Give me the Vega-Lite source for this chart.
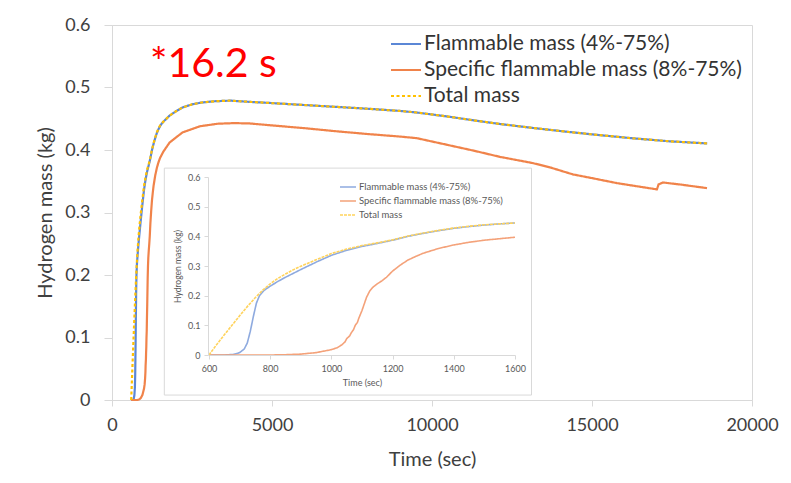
{
  "$schema": "https://vega.github.io/schema/vega-lite/v6.json",
  "width": 640,
  "height": 375,
  "autosize": {"type": "none"},
  "padding": {"left": 112, "top": 25, "right": 39, "bottom": 83},
  "background": "white",
  "config": {"font": "Lato", "view": {"stroke": "#d9d9d9"}, "axis": {"grid": false}},
  "datasets": {
    "mass": [
      {"series": "Flammable mass (4%-75%)", "t": 600, "v": 0},
      {"series": "Flammable mass (4%-75%)", "t": 650, "v": 0},
      {"series": "Flammable mass (4%-75%)", "t": 680, "v": 0.002},
      {"series": "Flammable mass (4%-75%)", "t": 700, "v": 0.008},
      {"series": "Flammable mass (4%-75%)", "t": 715, "v": 0.02},
      {"series": "Flammable mass (4%-75%)", "t": 725, "v": 0.04},
      {"series": "Flammable mass (4%-75%)", "t": 735, "v": 0.08},
      {"series": "Flammable mass (4%-75%)", "t": 745, "v": 0.13},
      {"series": "Flammable mass (4%-75%)", "t": 755, "v": 0.175},
      {"series": "Flammable mass (4%-75%)", "t": 765, "v": 0.2},
      {"series": "Flammable mass (4%-75%)", "t": 780, "v": 0.218},
      {"series": "Flammable mass (4%-75%)", "t": 800, "v": 0.232},
      {"series": "Flammable mass (4%-75%)", "t": 825, "v": 0.248},
      {"series": "Flammable mass (4%-75%)", "t": 850, "v": 0.262},
      {"series": "Flammable mass (4%-75%)", "t": 875, "v": 0.275},
      {"series": "Flammable mass (4%-75%)", "t": 900, "v": 0.288},
      {"series": "Flammable mass (4%-75%)", "t": 950, "v": 0.313},
      {"series": "Flammable mass (4%-75%)", "t": 1000, "v": 0.336},
      {"series": "Flammable mass (4%-75%)", "t": 1050, "v": 0.353},
      {"series": "Flammable mass (4%-75%)", "t": 1100, "v": 0.366},
      {"series": "Flammable mass (4%-75%)", "t": 1150, "v": 0.376},
      {"series": "Flammable mass (4%-75%)", "t": 1200, "v": 0.387},
      {"series": "Flammable mass (4%-75%)", "t": 1250, "v": 0.4},
      {"series": "Flammable mass (4%-75%)", "t": 1300, "v": 0.41},
      {"series": "Flammable mass (4%-75%)", "t": 1350, "v": 0.419},
      {"series": "Flammable mass (4%-75%)", "t": 1400, "v": 0.427},
      {"series": "Flammable mass (4%-75%)", "t": 1450, "v": 0.433},
      {"series": "Flammable mass (4%-75%)", "t": 1500, "v": 0.438},
      {"series": "Flammable mass (4%-75%)", "t": 1550, "v": 0.442},
      {"series": "Flammable mass (4%-75%)", "t": 1600, "v": 0.445},
      {"series": "Flammable mass (4%-75%)", "t": 1800, "v": 0.455},
      {"series": "Flammable mass (4%-75%)", "t": 2000, "v": 0.462},
      {"series": "Flammable mass (4%-75%)", "t": 2200, "v": 0.468},
      {"series": "Flammable mass (4%-75%)", "t": 2500, "v": 0.473},
      {"series": "Flammable mass (4%-75%)", "t": 2800, "v": 0.476},
      {"series": "Flammable mass (4%-75%)", "t": 3200, "v": 0.478},
      {"series": "Flammable mass (4%-75%)", "t": 3700, "v": 0.479},
      {"series": "Flammable mass (4%-75%)", "t": 4300, "v": 0.477},
      {"series": "Flammable mass (4%-75%)", "t": 4850, "v": 0.4755},
      {"series": "Flammable mass (4%-75%)", "t": 6000, "v": 0.472},
      {"series": "Flammable mass (4%-75%)", "t": 7000, "v": 0.469},
      {"series": "Flammable mass (4%-75%)", "t": 8000, "v": 0.466},
      {"series": "Flammable mass (4%-75%)", "t": 9000, "v": 0.4625},
      {"series": "Flammable mass (4%-75%)", "t": 9520, "v": 0.46},
      {"series": "Flammable mass (4%-75%)", "t": 10500, "v": 0.4535},
      {"series": "Flammable mass (4%-75%)", "t": 11300, "v": 0.4475},
      {"series": "Flammable mass (4%-75%)", "t": 12125, "v": 0.4416},
      {"series": "Flammable mass (4%-75%)", "t": 13200, "v": 0.435},
      {"series": "Flammable mass (4%-75%)", "t": 14200, "v": 0.4293},
      {"series": "Flammable mass (4%-75%)", "t": 15200, "v": 0.424},
      {"series": "Flammable mass (4%-75%)", "t": 16280, "v": 0.4187},
      {"series": "Flammable mass (4%-75%)", "t": 17400, "v": 0.414},
      {"series": "Flammable mass (4%-75%)", "t": 18600, "v": 0.4105},
      {"series": "Specific flammable mass (8%-75%)", "t": 600, "v": 0},
      {"series": "Specific flammable mass (8%-75%)", "t": 800, "v": 0},
      {"series": "Specific flammable mass (8%-75%)", "t": 850, "v": 0.001},
      {"series": "Specific flammable mass (8%-75%)", "t": 900, "v": 0.003},
      {"series": "Specific flammable mass (8%-75%)", "t": 950, "v": 0.008},
      {"series": "Specific flammable mass (8%-75%)", "t": 1000, "v": 0.018},
      {"series": "Specific flammable mass (8%-75%)", "t": 1020, "v": 0.025},
      {"series": "Specific flammable mass (8%-75%)", "t": 1035, "v": 0.035},
      {"series": "Specific flammable mass (8%-75%)", "t": 1045, "v": 0.045},
      {"series": "Specific flammable mass (8%-75%)", "t": 1050, "v": 0.055},
      {"series": "Specific flammable mass (8%-75%)", "t": 1060, "v": 0.065},
      {"series": "Specific flammable mass (8%-75%)", "t": 1065, "v": 0.075},
      {"series": "Specific flammable mass (8%-75%)", "t": 1072, "v": 0.085},
      {"series": "Specific flammable mass (8%-75%)", "t": 1078, "v": 0.1},
      {"series": "Specific flammable mass (8%-75%)", "t": 1085, "v": 0.11},
      {"series": "Specific flammable mass (8%-75%)", "t": 1090, "v": 0.125},
      {"series": "Specific flammable mass (8%-75%)", "t": 1096, "v": 0.14},
      {"series": "Specific flammable mass (8%-75%)", "t": 1100, "v": 0.15},
      {"series": "Specific flammable mass (8%-75%)", "t": 1105, "v": 0.165},
      {"series": "Specific flammable mass (8%-75%)", "t": 1110, "v": 0.18},
      {"series": "Specific flammable mass (8%-75%)", "t": 1115, "v": 0.195},
      {"series": "Specific flammable mass (8%-75%)", "t": 1120, "v": 0.205},
      {"series": "Specific flammable mass (8%-75%)", "t": 1125, "v": 0.215},
      {"series": "Specific flammable mass (8%-75%)", "t": 1135, "v": 0.228},
      {"series": "Specific flammable mass (8%-75%)", "t": 1150, "v": 0.24},
      {"series": "Specific flammable mass (8%-75%)", "t": 1165, "v": 0.25},
      {"series": "Specific flammable mass (8%-75%)", "t": 1180, "v": 0.262},
      {"series": "Specific flammable mass (8%-75%)", "t": 1200, "v": 0.283},
      {"series": "Specific flammable mass (8%-75%)", "t": 1225, "v": 0.303},
      {"series": "Specific flammable mass (8%-75%)", "t": 1250, "v": 0.32},
      {"series": "Specific flammable mass (8%-75%)", "t": 1275, "v": 0.332},
      {"series": "Specific flammable mass (8%-75%)", "t": 1300, "v": 0.343},
      {"series": "Specific flammable mass (8%-75%)", "t": 1350, "v": 0.359},
      {"series": "Specific flammable mass (8%-75%)", "t": 1400, "v": 0.371},
      {"series": "Specific flammable mass (8%-75%)", "t": 1450, "v": 0.38},
      {"series": "Specific flammable mass (8%-75%)", "t": 1500, "v": 0.387},
      {"series": "Specific flammable mass (8%-75%)", "t": 1550, "v": 0.392},
      {"series": "Specific flammable mass (8%-75%)", "t": 1600, "v": 0.397},
      {"series": "Specific flammable mass (8%-75%)", "t": 1800, "v": 0.412},
      {"series": "Specific flammable mass (8%-75%)", "t": 2200, "v": 0.428},
      {"series": "Specific flammable mass (8%-75%)", "t": 2750, "v": 0.438},
      {"series": "Specific flammable mass (8%-75%)", "t": 3300, "v": 0.442},
      {"series": "Specific flammable mass (8%-75%)", "t": 3800, "v": 0.443},
      {"series": "Specific flammable mass (8%-75%)", "t": 4300, "v": 0.4425},
      {"series": "Specific flammable mass (8%-75%)", "t": 4850, "v": 0.44},
      {"series": "Specific flammable mass (8%-75%)", "t": 6000, "v": 0.435},
      {"series": "Specific flammable mass (8%-75%)", "t": 7000, "v": 0.43},
      {"series": "Specific flammable mass (8%-75%)", "t": 8000, "v": 0.4255},
      {"series": "Specific flammable mass (8%-75%)", "t": 9000, "v": 0.4215},
      {"series": "Specific flammable mass (8%-75%)", "t": 9520, "v": 0.419},
      {"series": "Specific flammable mass (8%-75%)", "t": 10500, "v": 0.408},
      {"series": "Specific flammable mass (8%-75%)", "t": 11300, "v": 0.399},
      {"series": "Specific flammable mass (8%-75%)", "t": 12125, "v": 0.389},
      {"series": "Specific flammable mass (8%-75%)", "t": 13156, "v": 0.379},
      {"series": "Specific flammable mass (8%-75%)", "t": 13700, "v": 0.372},
      {"series": "Specific flammable mass (8%-75%)", "t": 14400, "v": 0.361},
      {"series": "Specific flammable mass (8%-75%)", "t": 15100, "v": 0.354},
      {"series": "Specific flammable mass (8%-75%)", "t": 15780, "v": 0.347},
      {"series": "Specific flammable mass (8%-75%)", "t": 16400, "v": 0.342},
      {"series": "Specific flammable mass (8%-75%)", "t": 17030, "v": 0.337},
      {"series": "Specific flammable mass (8%-75%)", "t": 17080, "v": 0.345},
      {"series": "Specific flammable mass (8%-75%)", "t": 17220, "v": 0.348},
      {"series": "Specific flammable mass (8%-75%)", "t": 17800, "v": 0.3445},
      {"series": "Specific flammable mass (8%-75%)", "t": 18594, "v": 0.339},
      {"series": "Total mass", "t": 600, "v": 0},
      {"series": "Total mass", "t": 625, "v": 0.035},
      {"series": "Total mass", "t": 650, "v": 0.068},
      {"series": "Total mass", "t": 675, "v": 0.1},
      {"series": "Total mass", "t": 700, "v": 0.132},
      {"series": "Total mass", "t": 725, "v": 0.163},
      {"series": "Total mass", "t": 750, "v": 0.192},
      {"series": "Total mass", "t": 775, "v": 0.218},
      {"series": "Total mass", "t": 800, "v": 0.24},
      {"series": "Total mass", "t": 825, "v": 0.258},
      {"series": "Total mass", "t": 850, "v": 0.273},
      {"series": "Total mass", "t": 875, "v": 0.287},
      {"series": "Total mass", "t": 900, "v": 0.299},
      {"series": "Total mass", "t": 950, "v": 0.321},
      {"series": "Total mass", "t": 1000, "v": 0.342},
      {"series": "Total mass", "t": 1050, "v": 0.357},
      {"series": "Total mass", "t": 1100, "v": 0.369},
      {"series": "Total mass", "t": 1150, "v": 0.378},
      {"series": "Total mass", "t": 1200, "v": 0.388},
      {"series": "Total mass", "t": 1250, "v": 0.401},
      {"series": "Total mass", "t": 1300, "v": 0.411},
      {"series": "Total mass", "t": 1350, "v": 0.42},
      {"series": "Total mass", "t": 1400, "v": 0.428},
      {"series": "Total mass", "t": 1450, "v": 0.434},
      {"series": "Total mass", "t": 1500, "v": 0.439},
      {"series": "Total mass", "t": 1550, "v": 0.442},
      {"series": "Total mass", "t": 1600, "v": 0.445},
      {"series": "Total mass", "t": 1800, "v": 0.455},
      {"series": "Total mass", "t": 2000, "v": 0.462},
      {"series": "Total mass", "t": 2200, "v": 0.468},
      {"series": "Total mass", "t": 2500, "v": 0.473},
      {"series": "Total mass", "t": 2800, "v": 0.476},
      {"series": "Total mass", "t": 3200, "v": 0.478},
      {"series": "Total mass", "t": 3700, "v": 0.479},
      {"series": "Total mass", "t": 4300, "v": 0.477},
      {"series": "Total mass", "t": 4850, "v": 0.4755},
      {"series": "Total mass", "t": 6000, "v": 0.472},
      {"series": "Total mass", "t": 7000, "v": 0.469},
      {"series": "Total mass", "t": 8000, "v": 0.466},
      {"series": "Total mass", "t": 9000, "v": 0.4625},
      {"series": "Total mass", "t": 9520, "v": 0.46},
      {"series": "Total mass", "t": 10500, "v": 0.4535},
      {"series": "Total mass", "t": 11300, "v": 0.4475},
      {"series": "Total mass", "t": 12125, "v": 0.4416},
      {"series": "Total mass", "t": 13200, "v": 0.435},
      {"series": "Total mass", "t": 14200, "v": 0.4293},
      {"series": "Total mass", "t": 15200, "v": 0.424},
      {"series": "Total mass", "t": 16280, "v": 0.4187},
      {"series": "Total mass", "t": 17400, "v": 0.414},
      {"series": "Total mass", "t": 18600, "v": 0.4105}
    ]
  },
  "layer": [
    {
      "layer": [
        {
          "data": {"name": "mass"},
          "mark": {"type": "line", "strokeWidth": 2.2},
          "encoding": {
            "x": {"field": "t", "type": "quantitative",
              "scale": {"domain": [0, 20000]},
              "axis": {"title": "Time (sec)", "values": [0, 5000, 10000, 15000, 20000], "format": "d",
                "labelFlush": false, "labelFontSize": 18, "titleFontSize": 20, "titleFontWeight": "normal",
                "labelColor": "#404040", "titleColor": "#404040", "domainColor": "#d9d9d9", "tickColor": "#d9d9d9",
                "tickSize": 6, "labelPadding": 10, "titlePadding": 15}},
            "y": {"field": "v", "type": "quantitative",
              "scale": {"domain": [0, 0.6]},
              "axis": {"title": "Hydrogen mass (kg)", "values": [0, 0.1, 0.2, 0.3, 0.4, 0.5, 0.6], "format": "~g",
                "labelFontSize": 18, "titleFontSize": 20, "titleFontWeight": "normal",
                "labelColor": "#404040", "titleColor": "#404040", "domainColor": "#d9d9d9", "tickColor": "#d9d9d9",
                "tickSize": 8, "labelPadding": 14, "titlePadding": 9}},
            "color": {"field": "series", "type": "nominal",
              "scale": {"domain": ["Flammable mass (4%-75%)", "Specific flammable mass (8%-75%)", "Total mass"],
                "range": ["#5B87D6", "#F0834A", "#FFC000"]},
              "legend": {"title": null, "orient": "none", "legendX": 278, "legendY": 3, "symbolType": "stroke",
                "symbolSize": 900, "symbolStrokeWidth": 2, "labelFontSize": 21, "labelColor": "#333333",
                "labelLimit": 400, "labelOffset": 2, "rowPadding": 0, "padding": 0}},
            "strokeDash": {"field": "series", "type": "nominal",
              "scale": {"domain": ["Flammable mass (4%-75%)", "Specific flammable mass (8%-75%)", "Total mass"],
                "range": [[1, 0], [1, 0], [3, 2.5]]},
              "legend": {"title": null, "orient": "none", "legendX": 278, "legendY": 3, "symbolType": "stroke",
                "symbolSize": 900, "symbolStrokeWidth": 2, "labelFontSize": 21, "labelColor": "#333333",
                "labelLimit": 400, "labelOffset": 2, "rowPadding": 0, "padding": 0}}
          }
        },
        {
          "data": {"values": [{"note": "*16.2 s"}]},
          "mark": {"type": "text", "fontSize": 41, "color": "#FF0000", "align": "left", "baseline": "middle", "font": "Lato"},
          "encoding": {
            "x": {"datum": 1187, "type": "quantitative"},
            "y": {"datum": 0.536, "type": "quantitative"},
            "text": {"field": "note"}
          }
        }
      ]
    },
    {
      "layer": [
        {
          "data": {"values": [{"box": "inset"}]},
          "mark": {"type": "rect", "fill": "white", "stroke": "#d9d9d9", "strokeWidth": 1},
          "encoding": {
            "x": {"datum": 454, "type": "quantitative", "scale": {"domain": [600, 1600], "range": [97, 403]}},
            "x2": {"datum": 1654},
            "y": {"datum": -0.135, "type": "quantitative", "scale": {"domain": [0, 0.6], "range": [330, 152]}},
            "y2": {"datum": 0.63}
          }
        },
        {
          "data": {"name": "mass"},
          "transform": [{"filter": "datum.t <= 1600"}],
          "mark": {"type": "line", "strokeWidth": 1.6},
          "encoding": {
            "x": {"field": "t", "type": "quantitative",
              "scale": {"domain": [600, 1600], "range": [97, 403]},
              "axis": {"title": "Time (sec)", "orient": "bottom", "offset": -45, "zindex": 1, "values": [600, 800, 1000, 1200, 1400, 1600], "format": "d",
                "labelFlush": false, "labelFontSize": 9, "titleFontSize": 9, "titleFontWeight": "normal",
                "labelColor": "#595959", "titleColor": "#595959", "domainColor": "#d9d9d9", "tickColor": "#d9d9d9",
                "tickSize": 4, "labelPadding": 5, "titlePadding": 5}},
            "y": {"field": "v", "type": "quantitative",
              "scale": {"domain": [0, 0.6], "range": [330, 152]},
              "axis": {"title": "Hydrogen mass (kg)", "orient": "left", "offset": -96, "zindex": 1, "values": [0, 0.1, 0.2, 0.3, 0.4, 0.5, 0.6], "format": "~g",
                "labelFontSize": 9, "titleFontSize": 8.5, "titleFontWeight": "normal",
                "labelColor": "#595959", "titleColor": "#595959", "domainColor": "#d9d9d9", "tickColor": "#d9d9d9",
                "tickSize": 4, "labelPadding": 4, "titlePadding": 5}},
            "color": {"field": "series", "type": "nominal",
              "scale": {"domain": ["Flammable mass (4%-75%)", "Specific flammable mass (8%-75%)", "Total mass"],
                "range": ["#8EAADF", "#F4A27A", "#FFD35C"]},
              "legend": {"title": null, "orient": "none", "legendX": 227, "legendY": 153, "symbolType": "stroke",
                "symbolSize": 256, "symbolStrokeWidth": 1.5, "labelFontSize": 9.5, "labelColor": "#595959",
                "labelLimit": 300, "labelOffset": 2, "rowPadding": -1.5, "padding": 0}},
            "strokeDash": {"field": "series", "type": "nominal",
              "scale": {"domain": ["Flammable mass (4%-75%)", "Specific flammable mass (8%-75%)", "Total mass"],
                "range": [[1, 0], [1, 0], [3, 1]]},
              "legend": {"title": null, "orient": "none", "legendX": 227, "legendY": 153, "symbolType": "stroke",
                "symbolSize": 256, "symbolStrokeWidth": 1.5, "labelFontSize": 9.5, "labelColor": "#595959",
                "labelLimit": 300, "labelOffset": 2, "rowPadding": -1.5, "padding": 0}}
          }
        }
      ]
    }
  ],
  "resolve": {
    "scale": {"x": "independent", "y": "independent", "color": "independent", "strokeDash": "independent"},
    "axis": {"x": "independent", "y": "independent"},
    "legend": {"color": "independent", "strokeDash": "independent"}
  }
}
